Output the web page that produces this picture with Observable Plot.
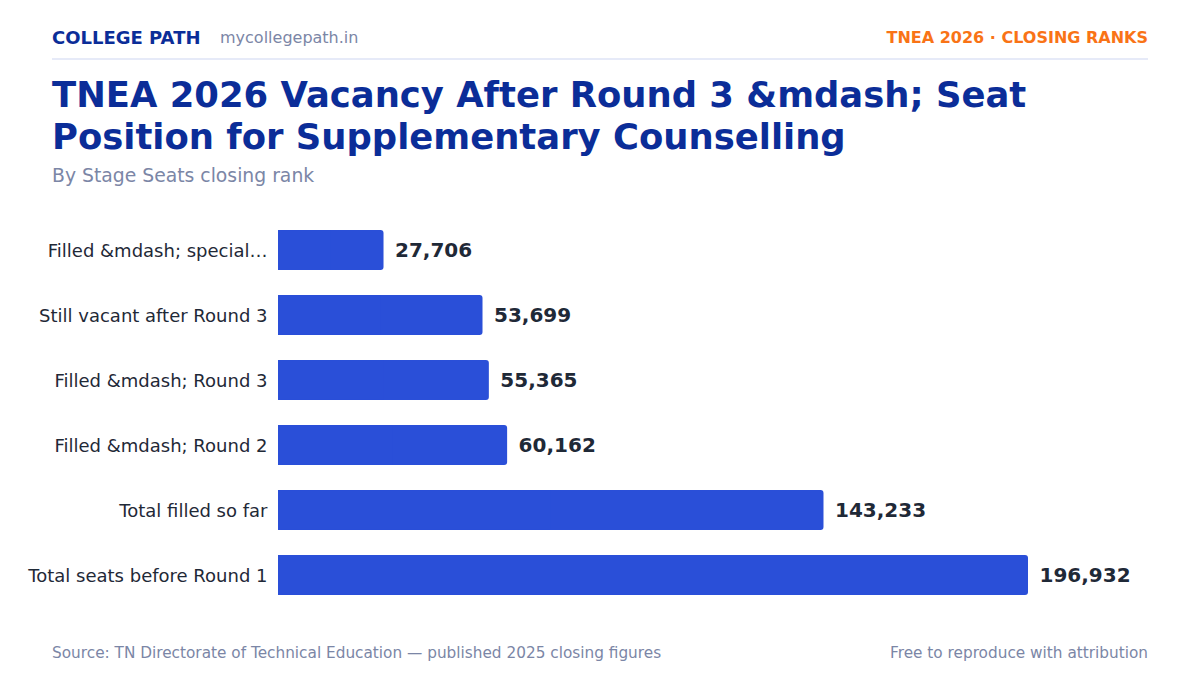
<!DOCTYPE html>
<html>
<head>
<meta charset="utf-8">
<script src="https://cdn.jsdelivr.net/npm/d3@7"></script>
<script src="https://cdn.jsdelivr.net/npm/@observablehq/plot@0.6"></script>
<style>
  html, body { margin: 0; padding: 0; background: #ffffff; }
  body { width: 1200px; height: 675px; position: relative; overflow: hidden; font-family: "DejaVu Sans", sans-serif; }
  .abs { position: absolute; white-space: nowrap; }
  #brand { left: 52px; top: 27px; font-size: 18px; font-weight: bold; color: #0b2d98; }
  #site { left: 220px; top: 28px; font-size: 16px; color: #7b86a6; }
  #tag { right: 52px; top: 28px; font-size: 16px; font-weight: bold; color: #f97316; }
  #rule { left: 52px; top: 58px; width: 1096px; height: 2px; background: #e6eaf8; }
  #title { left: 52px; top: 74px; width: 1096px; white-space: normal; font-size: 35.4px; font-weight: bold; line-height: 42px; color: #0b2d98; }
  #subtitle { left: 52px; top: 165px; font-size: 18.8px; color: #7b86a6; }
  #chart { left: 0; top: 200px; }
  #source { left: 52px; top: 644px; font-size: 15.3px; color: #7b86a6; }
  #credit { right: 52px; top: 644px; font-size: 15.3px; color: #7b86a6; }
</style>
</head>
<body>
<div class="abs" id="brand">COLLEGE PATH</div>
<div class="abs" id="site">mycollegepath.in</div>
<div class="abs" id="tag">TNEA 2026 · CLOSING RANKS</div>
<div class="abs" id="rule"></div>
<div class="abs" id="title">TNEA 2026 Vacancy After Round 3 &amp;mdash; Seat Position for Supplementary Counselling</div>
<div class="abs" id="subtitle">By Stage Seats closing rank</div>
<div class="abs" id="chart"></div>
<div class="abs" id="source">Source: TN Directorate of Technical Education — published 2025 closing figures</div>
<div class="abs" id="credit">Free to reproduce with attribution</div>
<script>
const stages = [
  "Filled &mdash; special…",
  "Still vacant after Round 3",
  "Filled &mdash; Round 3",
  "Filled &mdash; Round 2",
  "Total filled so far",
  "Total seats before Round 1"
];
const seats = [27706, 53699, 55365, 60162, 143233, 196932];

const data = stages.map((stage, i) => ({stage, seats: seats[i]}));
const barColor = "#2a4fd8";
const fmt = d3.format(",");

const chart = Plot.plot({
  width: 1200,
  height: 425,
  marginLeft: 278,
  marginRight: 172,
  marginTop: 5,
  marginBottom: 5,
  style: {fontFamily: "DejaVu Sans, sans-serif", background: "transparent", overflow: "visible"},
  x: {domain: [0, d3.max(seats)], axis: null},
  y: {domain: stages, padding: 0.385, round: false, axis: null},
  marks: [
    Plot.axisY({tickSize: 0, tickPadding: 11, fontSize: 18, fill: "#1f2937", label: null, dy: 1}),
    Plot.barX(data, {y: "stage", x: "seats", fill: barColor, rx: 3}),
    Plot.barX(data, {y: "stage", x1: 0, x2: d => d.seats / 2, fill: barColor}),
    Plot.text(data, {
      y: "stage", x: "seats", text: d => fmt(d.seats),
      textAnchor: "start", dx: 11, fontSize: 20, fontWeight: "bold", fill: "#1f2937"
    })
  ]
});
document.getElementById("chart").appendChild(chart);
</script>
</body>
</html>
